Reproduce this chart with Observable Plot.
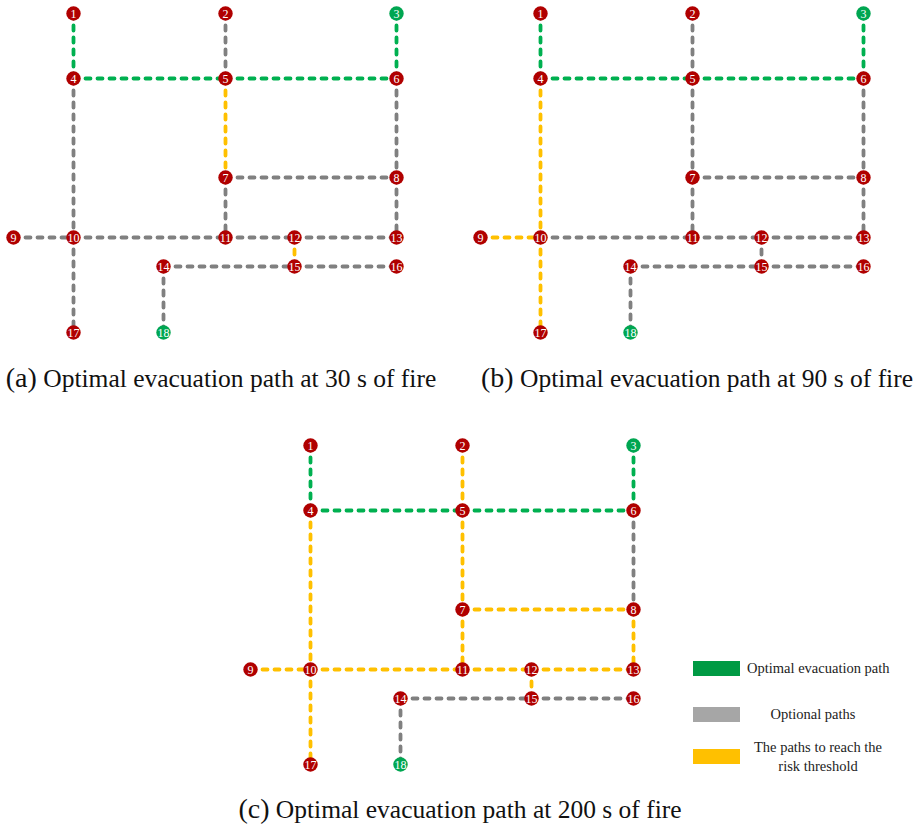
<!DOCTYPE html>
<html>
<head>
<meta charset="utf-8">
<script src="https://cdn.jsdelivr.net/npm/d3@7"></script>
<script src="https://cdn.jsdelivr.net/npm/@observablehq/plot@0.6"></script>
<style>
  html, body { margin: 0; padding: 0; background: #fff; }
  #page { position: relative; width: 918px; height: 827px; overflow: hidden; font-family: "Liberation Serif", "Times New Roman", serif; color: #111; }
  .panel { position: absolute; }
  .cap { position: absolute; text-align: center; font-size: 25.5px; line-height: 1; white-space: nowrap; }
  .cap .lbl { font-size: 28px; }
  .leg { position: absolute; font-size: 14.5px; line-height: 1.3; color: #222; }
  .sw { position: absolute; width: 47px; height: 15px; }
</style>
</head>
<body>
<div id="page"></div>
<script>
// ---------- data ----------
const nodeIds = [1,2,3,4,5,6,7,8,9,10,11,12,13,14,15,16,17,18];
const nodeX   = [60,212,383,60,212,383,212,383,0,60,212,281,383,150,281,383,60,150];
const nodeY   = [0,0,0,65,65,65,164,164,224,224,224,224,224,253,253,253,319,319];
const exitNodes = [3,18];

const edgeFrom = [1,2,3,4,5,4, 5,6,7,7, 8, 9,10,11,12,12,10,14,15,14];
const edgeTo   = [4,5,6,5,6,10,7,8,8,11,13,10,11,12,13,15,17,15,16,18];

// O = optimal evacuation path, P = optional path, R = path reaching risk threshold
const statusA = ["O","P","O","O","O","P","R","P","P","P","P","P","P","P","P","R","P","P","P","P"];
const statusB = ["O","P","O","O","O","R","P","P","P","P","P","R","P","P","P","P","R","P","P","P"];
const statusC = ["O","R","O","O","O","R","R","P","R","R","R","R","R","R","R","R","R","P","P","P"];

const panelLetters = ["(a)","(b)","(c)"];
const panelTimes = [30, 90, 200];
const statusKeys = ["P","R","O"];
const lineColors = ["#808080","#ffc000","#00b050"];
const legendLabels = ["Optimal evacuation path","Optional paths","The paths to reach the<br>risk threshold"];
const legendColors = ["#009a44","#a6a6a6","#ffc000"];

// ---------- build ----------
const nodes = nodeIds.map((id,i) => ({id, x: nodeX[i], y: nodeY[i], exit: exitNodes.includes(id)}));
const byId = new Map(nodes.map(n => [n.id, n]));

function panel(status) {
  const edges = edgeFrom.map((f,i) => ({a: byId.get(f), b: byId.get(edgeTo[i]), s: status[i]}))
    .sort((p,q) => statusKeys.indexOf(p.s) - statusKeys.indexOf(q.s));
  return Plot.plot({
    width: 420, height: 345,
    marginLeft: 13, marginRight: 24, marginTop: 13, marginBottom: 13,
    x: {domain: [0, 383], axis: null},
    y: {domain: [0, 319], axis: null, reverse: true},
    color: {domain: statusKeys, range: lineColors},
    style: {fontFamily: "Liberation Serif, Times New Roman, serif", background: "transparent", overflow: "visible"},
    marks: [
      Plot.link(edges, {x1: d => d.a.x, y1: d => d.a.y, x2: d => d.b.x, y2: d => d.b.y,
        stroke: "s", strokeWidth: 3.8, strokeDasharray: "5,7", strokeLinecap: "round"}),
      Plot.dot(nodes, {x: "x", y: "y", r: 7.2, fill: d => d.exit ? "#00a651" : "#b00000", stroke: null}),
      Plot.text(nodes, {x: "x", y: "y", text: "id", fill: "white", fontSize: 12, dy: 0.5,
        fontFamily: "Liberation Serif, Times New Roman, serif"})
    ]
  });
}

const page = document.getElementById("page");
const layout = [[0,0],[467,0],[237,432]];
const statuses = [statusA, statusB, statusC];
statuses.forEach((st, i) => {
  const d = document.createElement("div");
  d.className = "panel";
  d.style.left = layout[i][0] + "px";
  d.style.top = layout[i][1] + "px";
  d.appendChild(panel(st));
  page.appendChild(d);
});

// captions
const capPos = [[5, 364, 432], [465, 364, 464], [237, 795, 446]];
panelLetters.forEach((l, i) => {
  const c = document.createElement("div");
  c.className = "cap";
  c.style.left = capPos[i][0] + "px";
  c.style.top = capPos[i][1] + "px";
  c.style.width = capPos[i][2] + "px";
  c.innerHTML = `<span class="lbl">${l}</span> Optimal evacuation path at ${panelTimes[i]} s of fire`;
  page.appendChild(c);
});

// legend
const legY = [661, 707, 749];
const legTextPos = [[747, 659, "left", 170], [748, 705, "center", 130], [748, 738, "center", 140]];
legendLabels.forEach((t, i) => {
  const s = document.createElement("div");
  s.className = "sw";
  s.style.left = "693px";
  s.style.top = legY[i] + "px";
  s.style.background = legendColors[i];
  page.appendChild(s);
  const tx = document.createElement("div");
  tx.className = "leg";
  tx.style.left = legTextPos[i][0] + "px";
  tx.style.top = legTextPos[i][1] + "px";
  tx.style.width = legTextPos[i][3] + "px";
  tx.style.textAlign = legTextPos[i][2];
  tx.innerHTML = t;
  page.appendChild(tx);
});
</script>
</body>
</html>
